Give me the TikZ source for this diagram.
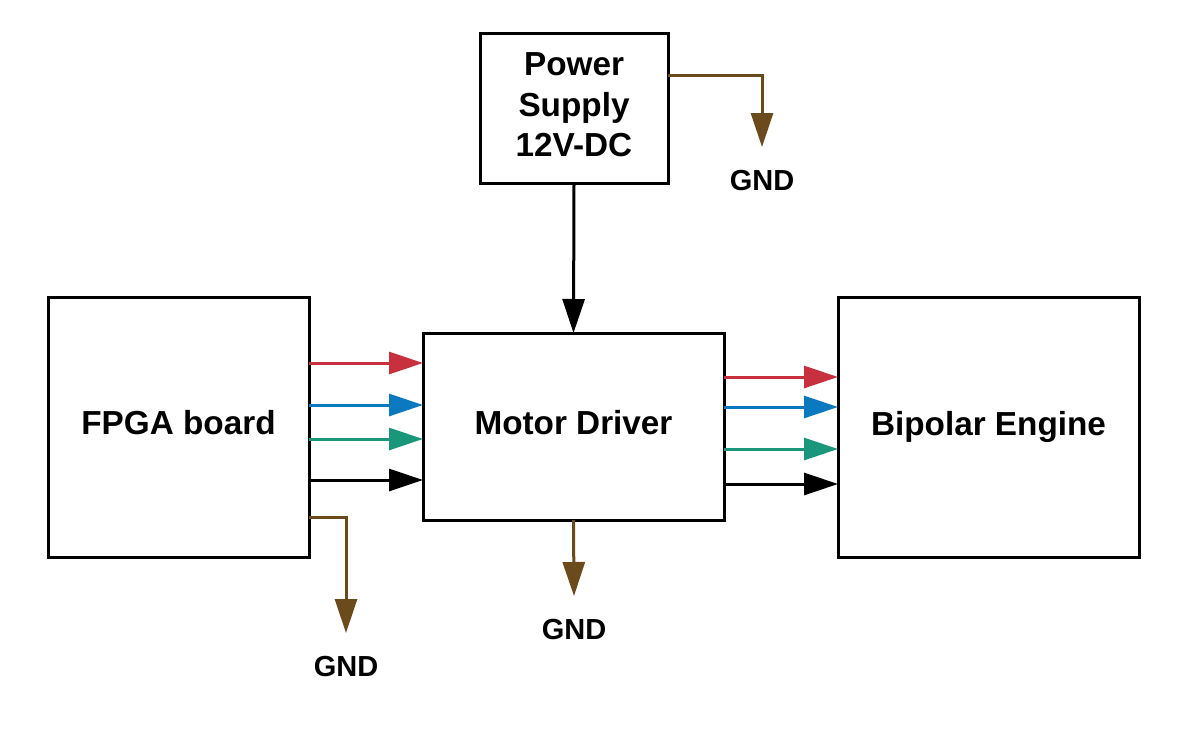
\documentclass[tikz,border=0pt]{standalone}
\usepackage{fontspec}
\setmainfont{Liberation Sans}
\usetikzlibrary{arrows.meta}
\definecolor{cred}{HTML}{C9303E}
\definecolor{cblue}{HTML}{0B79BF}
\definecolor{cgreen}{HTML}{1A967B}
\definecolor{cbrown}{HTML}{6B4A1C}
\begin{document}
\begin{tikzpicture}[x=1pt,y=-1pt,
  blk/.style={draw=black,line width=3pt,outer sep=0pt,inner sep=0pt,align=center,
    font=\fontsize{33.3}{40.5}\selectfont\bfseries},
  gndlbl/.style={inner sep=0pt,font=\fontsize{29}{34}\selectfont\bfseries},
  sig/.style={line width=3pt,-{Triangle[length=34pt,width=22pt]}},
  gnd/.style={line width=3pt,cbrown,-{Triangle[length=34pt,width=22pt]}}]
\useasboundingbox (0,0) rectangle (1193,744);
\node[blk,minimum width=188pt,minimum height=150pt] (power) at (574,108)
  {\raisebox{5pt}{\begin{tabular}{@{}c@{}}Power\\Supply\\12V-DC\end{tabular}}};
\node[blk,minimum width=261pt,minimum height=260pt] (fpga) at (178.5,427) {\raisebox{10pt}{FPGA board}};
\node[blk,minimum width=301pt,minimum height=187pt] (motor) at (573.5,426.5) {\raisebox{8pt}{Motor Driver}};
\node[blk,minimum width=301pt,minimum height=260pt] (engine) at (988.5,427) {\raisebox{6pt}{Bipolar Engine}};
% y levels
\coordinate (a1) at (0,363);
\coordinate (a2) at (0,405);
\coordinate (a3) at (0,439);
\coordinate (a4) at (0,480);
\coordinate (b1) at (0,377);
\coordinate (b2) at (0,407);
\coordinate (b3) at (0,449);
\coordinate (b4) at (0,484);
\draw[sig,cred]   (fpga.east |- a1) -- (motor.west |- a1);
\draw[sig,cblue]  (fpga.east |- a2) -- (motor.west |- a2);
\draw[sig,cgreen] (fpga.east |- a3) -- (motor.west |- a3);
\draw[sig,black]  (fpga.east |- a4) -- (motor.west |- a4);
\draw[sig,cred]   (motor.east |- b1) -- (engine.west |- b1);
\draw[sig,cblue]  (motor.east |- b2) -- (engine.west |- b2);
\draw[sig,cgreen] (motor.east |- b3) -- (engine.west |- b3);
\draw[sig,black]  (motor.east |- b4) -- (engine.west |- b4);
% power to motor
\draw[sig,black] (power.south) -- (motor.north);
% GND
\node[gndlbl] (g1) at (762,181) {GND};
\node[gndlbl] (g2) at (574,630) {GND};
\node[gndlbl] (g3) at (346,667) {GND};
\coordinate (t1) at (762,147);
\coordinate (t2) at (574,596);
\coordinate (t3) at (346,633);
\coordinate (p1) at (0,75);
\coordinate (p3) at (0,517);
\draw[gnd] (power.east |- p1) -| (t1);
\draw[gnd] (motor.south) -- (t2);
\draw[gnd] (fpga.east |- p3) -| (t3);
\end{tikzpicture}
\end{document}
